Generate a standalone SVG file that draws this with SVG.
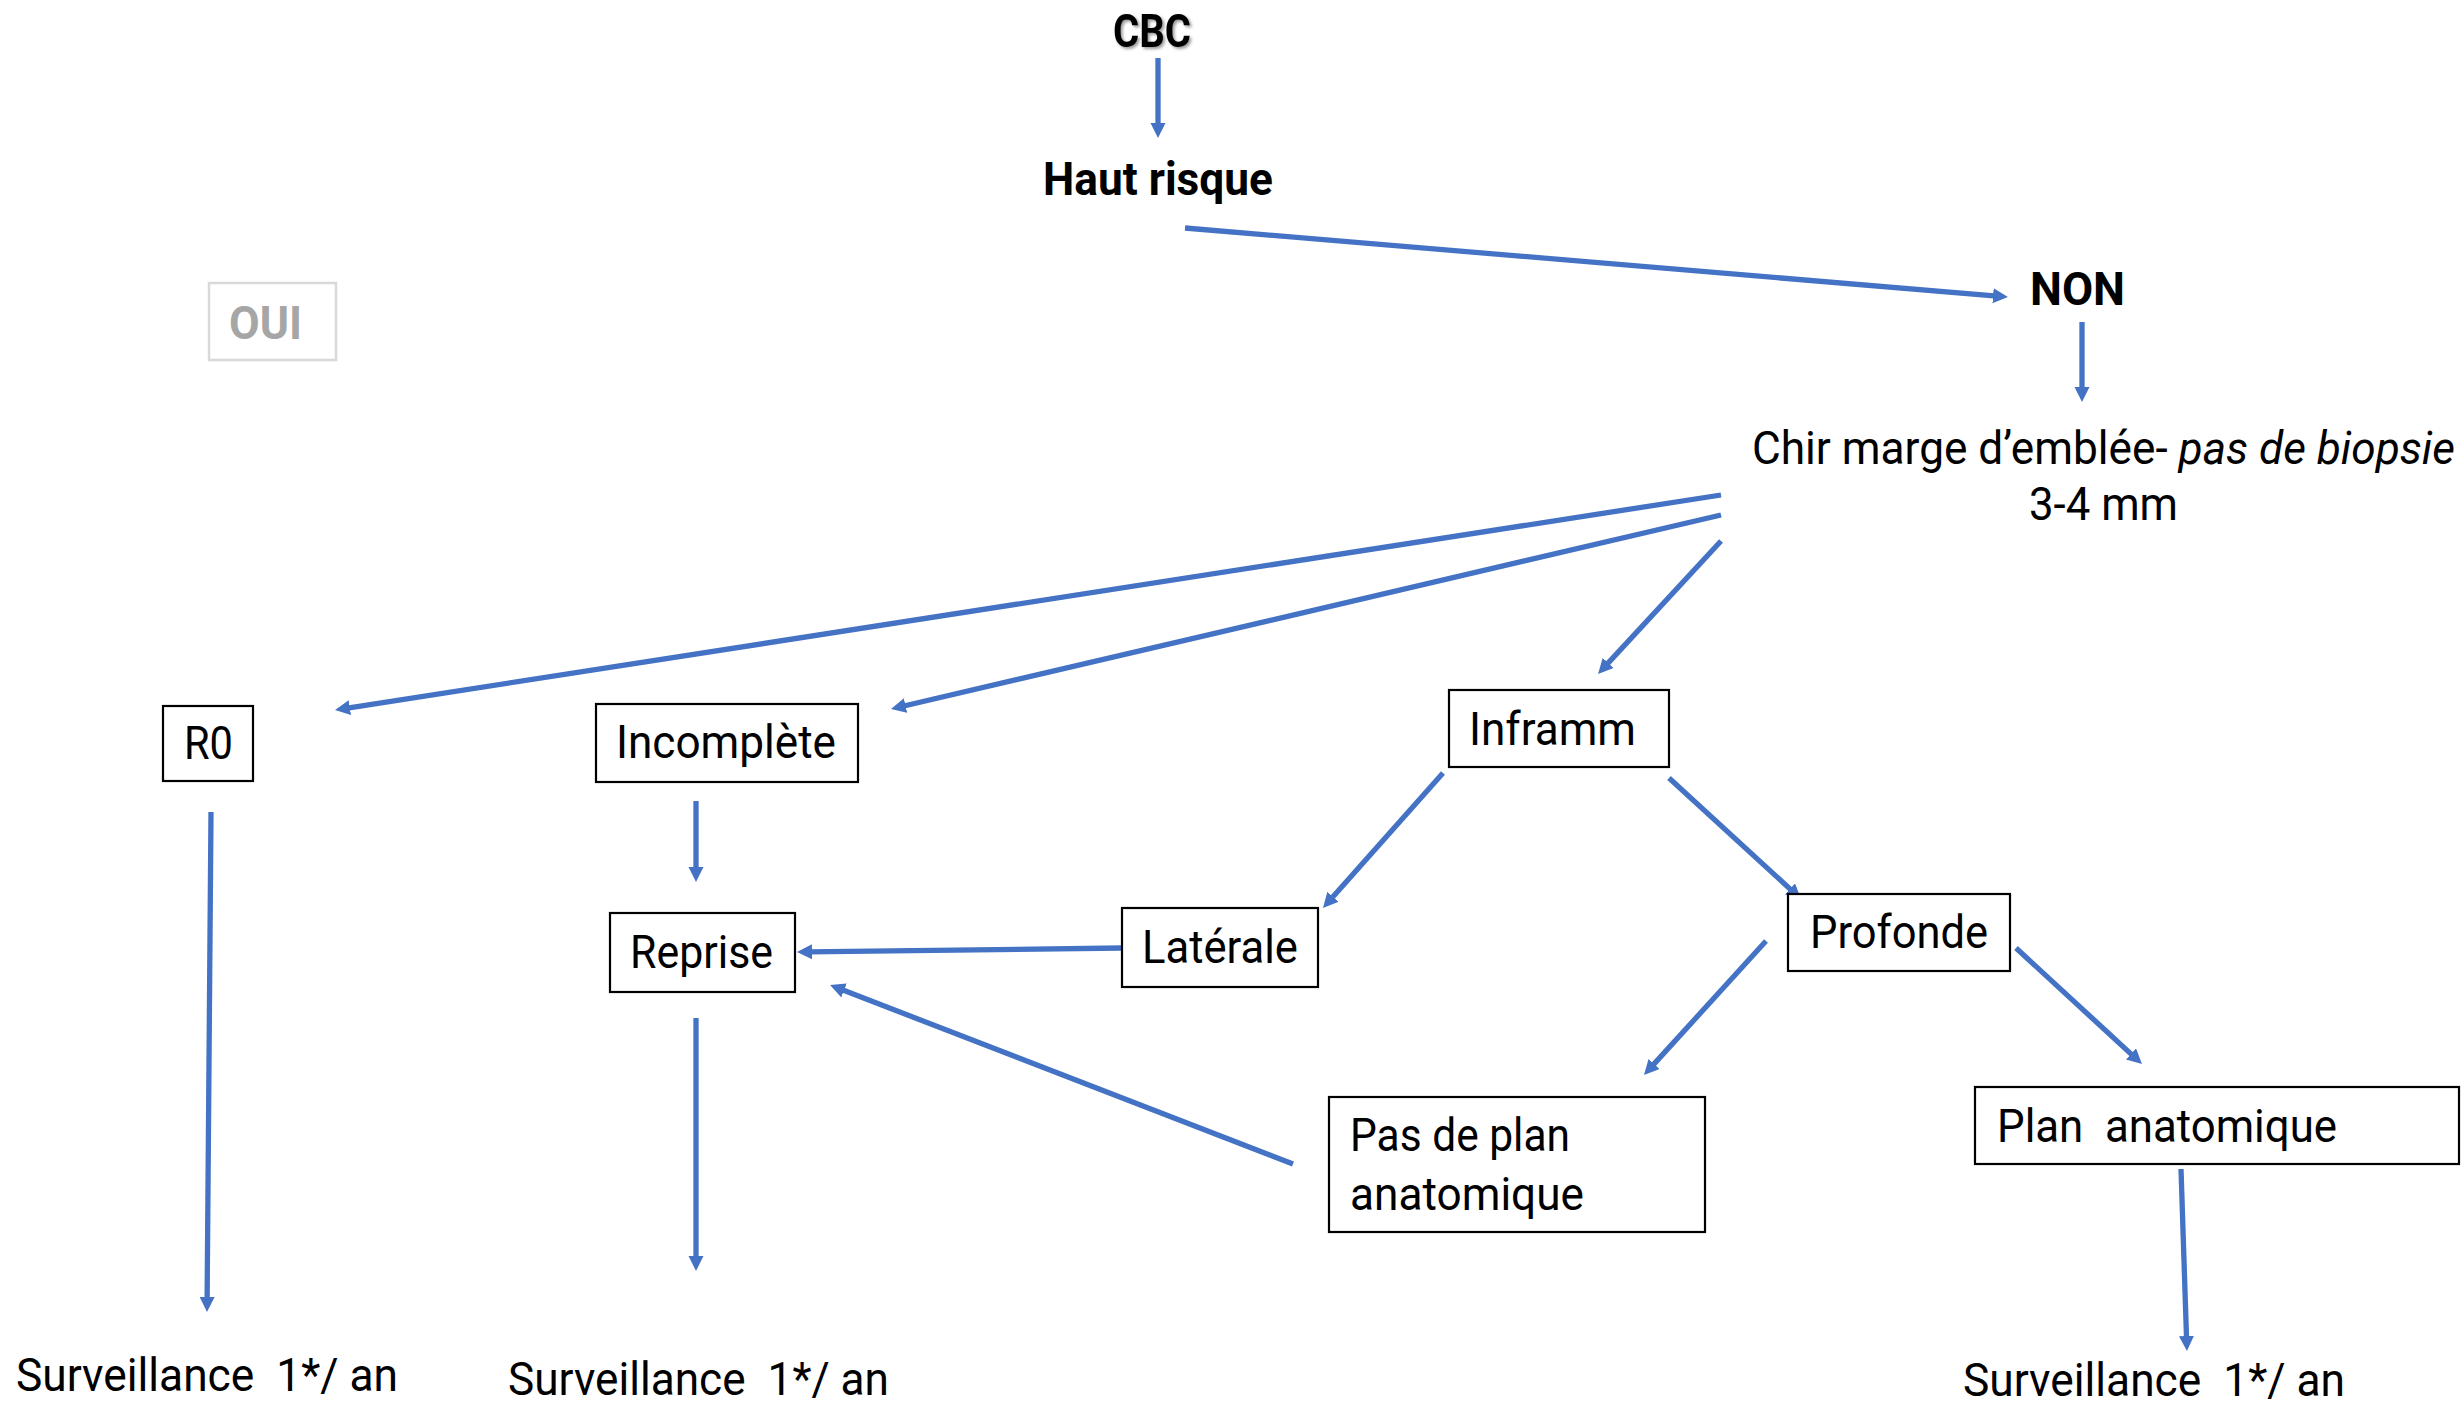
<svg xmlns="http://www.w3.org/2000/svg" width="2464" height="1404" viewBox="0 0 2464 1404">
<style>
.t{font-family:Roboto,"Liberation Sans",sans-serif;font-size:46px;fill:#000}
.b{font-weight:bold}
.box{fill:#fff;stroke:#000;stroke-width:2.2}
.c{stroke:#4472C4;stroke-width:5.3;fill:none;marker-end:url(#ah)}
</style>
<defs>
<marker id="ah" markerUnits="userSpaceOnUse" markerWidth="16" markerHeight="16" refX="4" refY="7.5" orient="auto">
<path d="M0,0 L15,7.5 L0,15 Z" fill="#4472C4"/>
</marker>
<filter id="sh" x="-20%" y="-20%" width="140%" height="140%">
<feDropShadow dx="2" dy="2" stdDeviation="1.5" flood-color="#000" flood-opacity="0.4"/>
</filter>
</defs>
<rect width="2464" height="1404" fill="#fff"/>
<g id="connectors">
<line class="c" x1="1158" y1="58" x2="1158" y2="127"/>
<line class="c" x1="1185" y1="228" x2="1997" y2="296.1"/>
<line class="c" x1="2082" y1="322" x2="2082" y2="391"/>
<line class="c" x1="1721" y1="495" x2="345.9" y2="708.3"/>
<line class="c" x1="1721" y1="515" x2="901.7" y2="706.5"/>
<line class="c" x1="1721" y1="541" x2="1605.5" y2="665.9"/>
<line class="c" x1="211" y1="812" x2="207.1" y2="1301"/>
<line class="c" x1="696" y1="801" x2="696" y2="871"/>
<line class="c" x1="696" y1="1018" x2="696" y2="1260"/>
<line class="c" x1="1443" y1="773" x2="1330.3" y2="899.8"/>
<line class="c" x1="1669" y1="778" x2="1792.9" y2="891.6"/>
<line class="c" x1="1122" y1="948" x2="808" y2="951.9"/>
<line class="c" x1="1293" y1="1164" x2="840.3" y2="989"/>
<line class="c" x1="1766" y1="941" x2="1651.4" y2="1066.9"/>
<line class="c" x1="2016" y1="948" x2="2133.9" y2="1056.6"/>
<line class="c" x1="2181" y1="1169" x2="2186.6" y2="1340"/>
</g>
<g id="cbc"><text class="t b" x="1113" y="47" textLength="78" lengthAdjust="spacingAndGlyphs" filter="url(#sh)">CBC</text></g>
<g id="haut"><text class="t b" x="1043" y="195" textLength="230" lengthAdjust="spacingAndGlyphs">Haut risque</text></g>
<g id="non"><text class="t b" x="2030" y="305" textLength="95" lengthAdjust="spacingAndGlyphs">NON</text></g>
<g id="oui"><rect x="209" y="283" width="127" height="77" fill="#fff" stroke="#d9d9d9" stroke-width="2.5"/><text class="t b" x="229" y="339" textLength="73" lengthAdjust="spacingAndGlyphs" style="fill:#a6a6a6">OUI</text></g>
<g id="chir"><text class="t" x="1752" y="464" textLength="703" lengthAdjust="spacingAndGlyphs">Chir marge d’emblée- <tspan font-style="italic">pas de biopsie</tspan></text><text class="t" x="2029" y="520" textLength="149" lengthAdjust="spacingAndGlyphs">3-4 mm</text></g>
<g id="r0"><rect class="box" x="163" y="706" width="90" height="75"/><text class="t" x="184" y="759" textLength="49" lengthAdjust="spacingAndGlyphs">R0</text></g>
<g id="incomplete"><rect class="box" x="596" y="704" width="262" height="78"/><text class="t" x="616" y="758" textLength="220" lengthAdjust="spacingAndGlyphs">Incomplète</text></g>
<g id="inframm"><rect class="box" x="1449" y="690" width="220" height="77"/><text class="t" x="1469" y="745" textLength="167" lengthAdjust="spacingAndGlyphs">Inframm</text></g>
<g id="reprise"><rect class="box" x="610" y="913" width="185" height="79"/><text class="t" x="630" y="968" textLength="143" lengthAdjust="spacingAndGlyphs">Reprise</text></g>
<g id="laterale"><rect class="box" x="1122" y="908" width="196" height="79"/><text class="t" x="1142" y="963" textLength="156" lengthAdjust="spacingAndGlyphs">Latérale</text></g>
<g id="profonde"><rect class="box" x="1788" y="894" width="222" height="77"/><text class="t" x="1810" y="948" textLength="178" lengthAdjust="spacingAndGlyphs">Profonde</text></g>
<g id="pasdeplan"><rect class="box" x="1329" y="1097" width="376" height="135"/><text class="t" x="1350" y="1151" textLength="220" lengthAdjust="spacingAndGlyphs">Pas de plan</text><text class="t" x="1350" y="1210" textLength="234" lengthAdjust="spacingAndGlyphs">anatomique</text></g>
<g id="plananat"><rect class="box" x="1975" y="1087" width="484" height="77"/><text class="t" x="1997" y="1142" textLength="340" lengthAdjust="spacingAndGlyphs" xml:space="preserve">Plan  anatomique</text></g>
<g id="surv1"><text class="t" x="16" y="1391" textLength="382" lengthAdjust="spacingAndGlyphs" xml:space="preserve">Surveillance  1*/ an</text></g>
<g id="surv2"><text class="t" x="508" y="1395" textLength="381" lengthAdjust="spacingAndGlyphs" xml:space="preserve">Surveillance  1*/ an</text></g>
<g id="surv3"><text class="t" x="1963" y="1396" textLength="382" lengthAdjust="spacingAndGlyphs" xml:space="preserve">Surveillance  1*/ an</text></g>
</svg>
